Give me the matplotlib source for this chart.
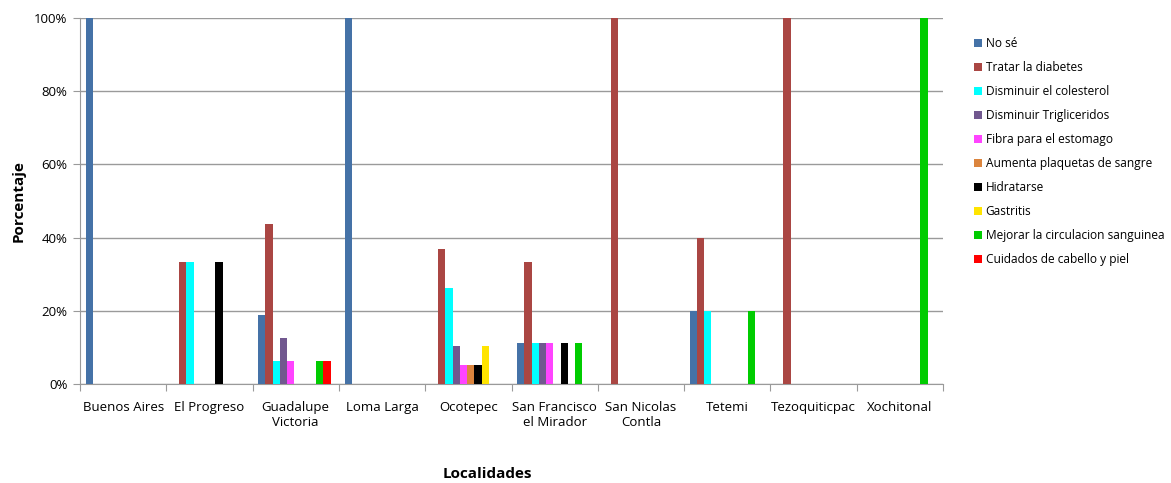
import numpy as np
import matplotlib
matplotlib.use('Agg')
import matplotlib.pyplot as plt
from matplotlib.ticker import FuncFormatter

localidades = ["Buenos Aires", "El Progreso", "Guadalupe\nVictoria", "Loma Larga", "Ocotepec",
               "San Francisco\nel Mirador", "San Nicolas\nContla", "Tetemi", "Tezoquiticpac", "Xochitonal"]

respuestas = ["No sé", "Tratar la diabetes", "Disminuir el colesterol", "Disminuir Trigliceridos",
              "Fibra para el estomago", "Aumenta plaquetas de sangre", "Hidratarse", "Gastritis",
              "Mejorar la circulacion sanguinea", "Cuidados de cabello y piel"]

# percentage per localidad, one list per respuesta
no_se = [100, 0, 18.75, 100, 0, 11.1, 0, 20, 0, 0]
tratar_diabetes = [0, 33.3, 43.75, 0, 36.8, 33.3, 100, 40, 100, 0]
colesterol = [0, 33.3, 6.25, 0, 26.3, 11.1, 0, 20, 0, 0]
trigliceridos = [0, 0, 12.5, 0, 10.5, 11.1, 0, 0, 0, 0]
fibra = [0, 0, 6.25, 0, 5.3, 11.1, 0, 0, 0, 0]
plaquetas = [0, 0, 0, 0, 5.3, 0, 0, 0, 0, 0]
hidratarse = [0, 33.3, 0, 0, 5.3, 11.1, 0, 0, 0, 0]
gastritis = [0, 0, 0, 0, 10.5, 0, 0, 0, 0, 0]
circulacion = [0, 0, 6.25, 0, 0, 11.1, 0, 20, 0, 100]
cabello = [0, 0, 6.25, 0, 0, 0, 0, 0, 0, 0]

series = [no_se, tratar_diabetes, colesterol, trigliceridos, fibra,
          plaquetas, hidratarse, gastritis, circulacion, cabello]
colores = ["#4572A7", "#AA4643", "#00FFFF", "#71588F", "#FF44FF",
           "#DB843D", "#000000", "#FFE400", "#00CC00", "#FF0000"]

plt.rcParams['font.family'] = ['Open Sans', 'DejaVu Sans']

fig = plt.figure(figsize=(11.71, 4.83), dpi=100)
ax = fig.add_axes([80 / 1171, 1 - 384 / 483, 863 / 1171, 366 / 483])

n = len(series)
x = np.arange(len(localidades))
w = 0.084
for i, (vals, col) in enumerate(zip(series, colores)):
    ax.bar(x + (i - (n - 1) / 2) * w - 0.015, vals, width=w, color=col, label=respuestas[i],
           edgecolor='none', zorder=3)

ax.set_xlim(-0.5, len(localidades) - 0.5)
ax.set_ylim(0, 100)
ax.set_yticks(np.arange(0, 101, 20))
ax.yaxis.set_major_formatter(FuncFormatter(lambda v, p: f"{int(v)}%"))
ax.grid(axis='y', color='#9a9a9a', linewidth=1, zorder=0)

ax.set_xticks(np.arange(-0.5, len(localidades), 1))
ax.set_xticklabels([])
ax.set_xticks(x, minor=True)
ax.set_xticklabels(localidades, minor=True)
ax.tick_params(axis='x', which='major', length=5, color='#9a9a9a', direction='out')
ax.tick_params(axis='x', which='minor', length=0, pad=12, labelsize=9.5)
ax.tick_params(axis='y', length=5, color='#9a9a9a', labelsize=9.5, pad=4)

for s in ['top', 'right']:
    ax.spines[s].set_visible(False)
for s in ['left', 'bottom']:
    ax.spines[s].set_color('#9a9a9a')

ax.set_ylabel("Porcentaje", fontsize=11, fontweight='bold', labelpad=6)
fig.text(487 / 1171, 1 - 474 / 483, "Localidades", fontsize=11, fontweight='bold',
         ha='center', va='center')

ax.legend(loc='upper left', bbox_to_anchor=(1.03, 0.96), frameon=False, fontsize=8.6,
          handlelength=0.7, handleheight=0.7, handletextpad=0.3, labelspacing=0.92,
          borderaxespad=0)

fig.savefig("out.png", dpi=100)
